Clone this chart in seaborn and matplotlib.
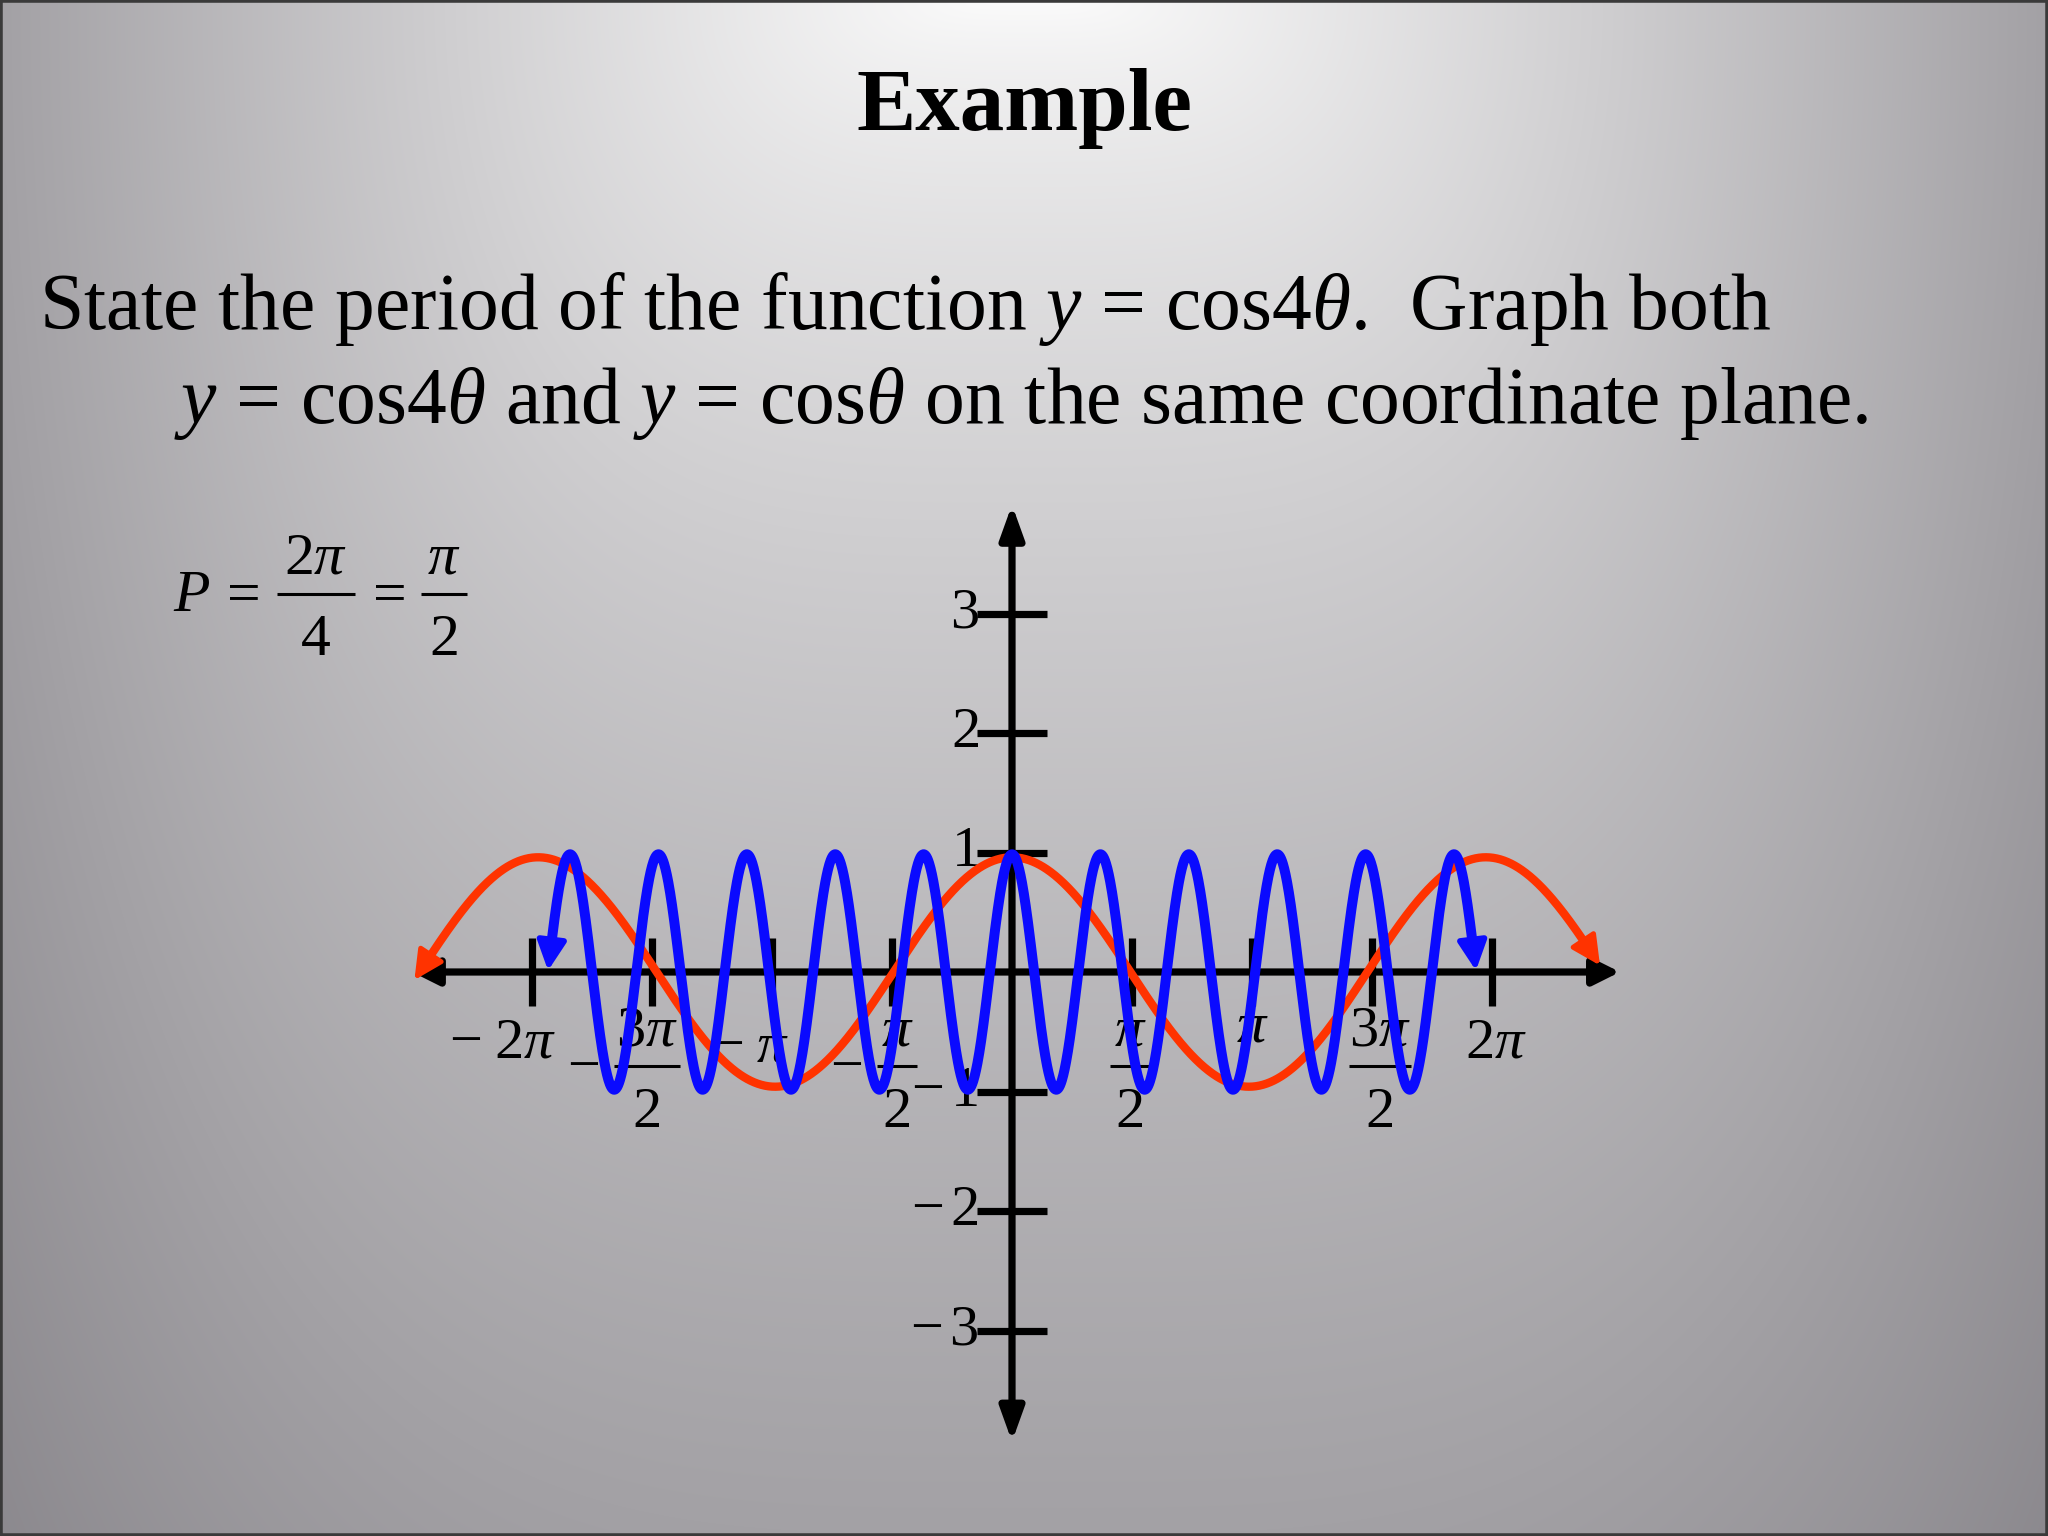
import numpy as np
import matplotlib
matplotlib.use("Agg")
import matplotlib.pyplot as plt
from matplotlib.patches import Rectangle
import seaborn as sns

PI = np.pi

# tick values and labels of the coordinate plane
x_ticks = np.array([-2, -1.5, -1, -0.5, 0.5, 1, 1.5, 2]) * PI
x_labels = [("-", r"$2\pi$", None), ("-", r"$3\pi$", "2"), ("-", r"$\pi$", None),
            ("-", r"$\pi$", "2"), ("", r"$\pi$", "2"), ("", r"$\pi$", None),
            ("", r"$3\pi$", "2"), ("", r"$2\pi$", None)]
y_ticks = [-3, -2, -1, 1, 2, 3]
y_labels = [r"$-\,3$", r"$-\,2$", r"$-\,1$", r"$1$", r"$2$", r"$3$"]

# the two curves as drawn on the slide (spans in multiples of pi)
red_span = (-2.49, 2.45)      # y = cos(theta)
red_amp = 0.96
red_freq = 1.013
blue_span = (-1.933, 1.933)   # y = cos(4 theta), as sketched
blue_amp = 0.985
blue_freq = 5.43

# axis extents
x_axis_span = (-2.50, 2.533)
y_axis_span = (-3.93, 3.91)

# ---- layout (pixel frame of the slide) ----
W, H, DPI = 2048, 1536, 200
X0, Y0 = 1012, 972          # origin in pixels
PX_PI, PX_UNIT = 240, 119.5  # pixels per pi, pixels per y unit
px2pt = 72 / DPI

sns.set_theme(style="white")
plt.rcParams["font.family"] = ["Liberation Serif", "DejaVu Serif"]
plt.rcParams["text.color"] = "black"
plt.rcParams["mathtext.fontset"] = "custom"
plt.rcParams["mathtext.rm"] = "Liberation Serif"
plt.rcParams["mathtext.it"] = "Liberation Serif:italic"
plt.rcParams["mathtext.bf"] = "Liberation Serif:bold"

fig = plt.figure(figsize=(W / DPI, H / DPI), dpi=DPI)
ax = fig.add_axes([0, 0, 1, 1])
xlim = ((0 - X0) / PX_PI * PI, (W - X0) / PX_PI * PI)
ylim = ((Y0 - H) / PX_UNIT, Y0 / PX_UNIT)
ax.set_xlim(*xlim)
ax.set_ylim(*ylim)
ax.axis("off")


def at(px, py):
    """data coords of a pixel position measured from the top-left corner"""
    return tuple(ax.transData.inverted().transform((px, H - py)))


def tick_px(t):
    return ax.transData.transform((t, 0))[0]


# background: grey gradient, light at top centre
u = np.linspace(0, 1, 512)
v = np.linspace(0, 1, 384)
U, V = np.meshgrid(u, v)
f = ((np.abs(U - 0.5) / 0.5) ** 3.6 + V ** 1.95) ** (1 / 3)
top = np.array([252, 252, 252]) / 255
drop = np.array([89, 91, 87]) / 255
img = np.clip(top[None, None, :] - drop[None, None, :] * f[..., None], 0, 1)
ax.imshow(img, extent=[xlim[0], xlim[1], ylim[0], ylim[1]], aspect="auto",
          origin="upper", interpolation="bilinear", zorder=0)

# axes with arrows
axis_lw = 2.6
ax.annotate("", xy=(x_axis_span[1] * PI, 0), xytext=(x_axis_span[0] * PI, 0),
            arrowprops=dict(arrowstyle="<|-|>", lw=axis_lw, color="black",
                            mutation_scale=20, shrinkA=0, shrinkB=0), zorder=2)
ax.annotate("", xy=(0, y_axis_span[1]), xytext=(0, y_axis_span[0]),
            arrowprops=dict(arrowstyle="<|-|>,head_length=0.5,head_width=0.18", lw=axis_lw,
                            color="black", mutation_scale=20, shrinkA=0, shrinkB=0), zorder=2)

# tick marks
tick_half_y = 34 / PX_UNIT
tick_half_x = 35 / PX_PI * PI
ax.vlines(x_ticks, -tick_half_y, tick_half_y, colors="black", lw=axis_lw, zorder=2)
ax.hlines(y_ticks, -tick_half_x, tick_half_x, colors="black", lw=axis_lw, zorder=2)


def fraction(cx, bar_y, num, den, half, size, minus=False, z=3):
    x_l, y_b = at(cx - half, bar_y)
    x_r, _ = at(cx + half, bar_y)
    ax.plot([x_l, x_r], [y_b, y_b], color="black", lw=1.1, zorder=z,
            solid_capstyle="butt")
    ax.text(*at(cx, bar_y - 20), num, ha="center", va="baseline", fontsize=size, zorder=z)
    ax.text(*at(cx, bar_y + 61), den, ha="center", va="baseline", fontsize=size, zorder=z)
    if minus:
        ax.text(*at(cx - half - 14, bar_y + 17), "\u2212", ha="right", va="baseline",
                fontsize=size, zorder=z)


# x tick labels: horizontal shift (px), baseline (px), fraction half width,
# and gap from label centre to the minus sign
x_label_dx = [-7, -5, 0, 5, -2, 0, 8, 4]
x_label_base = [1058, 1066, 1062, 1066, 1066, 1042, 1066, 1057]
x_frac_half = [0, 33, 0, 20, 20, 0, 31, 0]
x_minus_gap = [43, 0, 28, 0, 0, 0, 0, 0]
TS = 21
for t, (sign, num, den), dx, base, half, gap in zip(x_ticks, x_labels, x_label_dx,
                                                    x_label_base, x_frac_half, x_minus_gap):
    cx = tick_px(t) + dx
    if den is not None:
        fraction(cx, base, num, den, half, TS, minus=(sign == "-"))
    else:
        ax.text(*at(cx, base), num, ha="center", va="baseline", fontsize=TS, zorder=3)
        if sign:
            ax.text(*at(cx - gap, base), "\u2212", ha="right", va="baseline",
                    fontsize=TS, zorder=3)

for yv, lab in zip(y_ticks, y_labels):
    ax.annotate(lab, xy=(0, yv), xytext=(-33 * px2pt, 0), textcoords="offset points",
                ha="right", va="center", fontsize=TS, zorder=3)


def draw_curve(span, amp, freq, color, lw, head, z):
    theta = np.linspace(span[0] * PI, span[1] * PI, 2000)
    yv = amp * np.cos(freq * theta)
    pts = ax.transData.transform(np.column_stack([theta, yv]))
    head_px = 0.4 * head / px2pt * 1.1
    # cut both ends so the arrowheads sit on the curve ends
    dl = np.hypot(*(pts - pts[0]).T)
    dr = np.hypot(*(pts - pts[-1]).T)
    i0 = np.argmax(dl > head_px)
    i1 = len(theta) - 1 - np.argmax(dr[::-1] > head_px)
    sns.lineplot(x=theta[i0:i1 + 1], y=yv[i0:i1 + 1], ax=ax, color=color, lw=lw,
                 sort=False, estimator=None, zorder=z)
    for a, b in ((i0, 0), (i1, len(theta) - 1)):
        ax.annotate("", xy=(theta[b], yv[b]), xytext=(theta[a], yv[a]),
                    arrowprops=dict(arrowstyle="-|>", lw=lw * 0.6, color=color,
                                    mutation_scale=head, shrinkA=0, shrinkB=0), zorder=z)


draw_curve(red_span, red_amp, red_freq, "#ff3300", 3.0, 22, 4)
draw_curve(blue_span, blue_amp, blue_freq, "#0a0aff", 3.6, 22, 5)

# slide text
fig.text(0.5, 1 - 130 / H, "Example", ha="center", va="baseline",
         fontsize=32, fontweight="bold")
fig.text(39 / W, 1 - 329 / H,
         r"State the period of the function $y$ = cos4$\theta$.  Graph both",
         ha="left", va="baseline", fontsize=28.65)
fig.text(174 / W, 1 - 423 / H,
         r"$y$ = cos4$\theta$ and $y$ = cos$\theta$ on the same coordinate plane.",
         ha="left", va="baseline", fontsize=28.65)

# period formula  P = 2pi/4 = pi/2
PS = 21.5
ax.text(*at(173, 611), r"$P$", ha="left", va="baseline", fontsize=PS, zorder=3)
ax.text(*at(244, 611), "=", ha="center", va="baseline", fontsize=PS, zorder=3)
fraction(316, 594, r"$2\pi$", "4", 39, PS)
ax.text(*at(390, 611), "=", ha="center", va="baseline", fontsize=PS, zorder=3)
fraction(444, 594, r"$\pi$", "2", 23, PS)

fig.patches.append(Rectangle((0, 0), 1, 1, transform=fig.transFigure, fill=False,
                             edgecolor="#3a3a3a", lw=2))

fig.savefig("out.png", dpi=DPI)
